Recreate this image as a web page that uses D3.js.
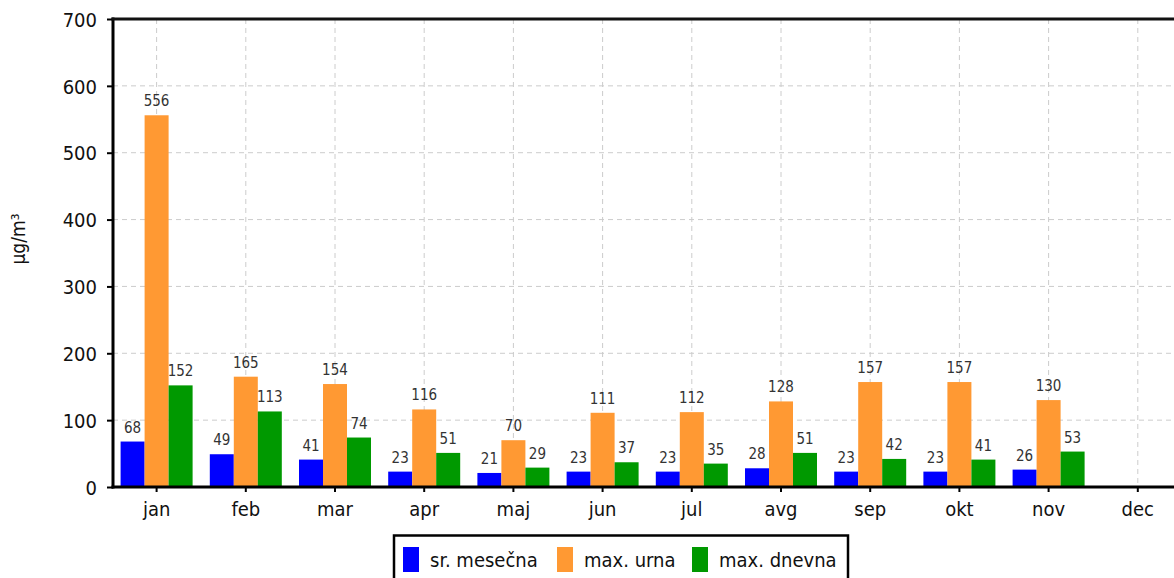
<!DOCTYPE html>
<html>
<head>
<meta charset="utf-8">
<script src="https://cdn.jsdelivr.net/npm/d3@7"></script>
<style>
  html, body { margin: 0; padding: 0; background: #fff; overflow: hidden; }
  svg { display: block; }
  text { font-family: "DejaVu Sans Condensed", "DejaVu Sans", Verdana, sans-serif; font-stretch: condensed; }
</style>
</head>
<body>
<svg id="chart" width="1174" height="578"></svg>
<script>
// Monthly concentrations (µg/m³)
const months = ["jan","feb","mar","apr","maj","jun","jul","avg","sep","okt","nov","dec"];
const seriesNames = ["sr. mesečna","max. urna","max. dnevna"];
const seriesColors = ["#0000ff","#ff9933","#009900"];
const avgMonthly = [68, 49, 41, 23, 21, 23, 23, 28, 23, 23, 26, null];
const maxHourly  = [556, 165, 154, 116, 70, 111, 112, 128, 157, 157, 130, null];
const maxDaily   = [152, 113, 74, 51, 29, 37, 35, 51, 42, 41, 53, null];
const yTicks = [0, 100, 200, 300, 400, 500, 600, 700];

const series = [avgMonthly, maxHourly, maxDaily];

const svg = d3.select("#chart");
const plotLeft = 113, plotTop = 19, plotBottom = 487, step = 89.2;
const bandStart = 112;
const plotRight = bandStart + step * months.length;

const x = d3.scaleBand().domain(months).range([bandStart, plotRight]);
const inner = d3.scaleBand().domain(seriesNames).range([0, 72]);
const y = d3.scaleLinear().domain([0, 700]).range([plotBottom, plotTop]);

// grid
svg.append("g").selectAll("line").data(yTicks.slice(1)).join("line")
  .attr("x1", plotLeft).attr("x2", 1174)
  .attr("y1", d => y(d)).attr("y2", d => y(d))
  .attr("stroke", "#cccccc").attr("stroke-width", 1).attr("stroke-dasharray", "5,4");
svg.append("g").selectAll("line").data(months).join("line")
  .attr("x1", d => x(d) + x.bandwidth() / 2).attr("x2", d => x(d) + x.bandwidth() / 2)
  .attr("y1", plotTop).attr("y2", plotBottom)
  .attr("stroke", "#cccccc").attr("stroke-width", 1).attr("stroke-dasharray", "5,4");

// bars with value labels
const offset = (x.bandwidth() - 72) / 2;
series.forEach((vals, si) => {
  const g = svg.append("g");
  const rows = months.map((m, i) => ({ m, v: vals[i] })).filter(d => d.v != null);
  g.selectAll("rect").data(rows).join("rect")
    .attr("x", d => x(d.m) + offset + inner(seriesNames[si]))
    .attr("width", inner.bandwidth())
    .attr("y", d => y(d.v))
    .attr("height", d => plotBottom - y(d.v))
    .attr("fill", seriesColors[si]);
  g.selectAll("text").data(rows).join("text")
    .attr("x", d => x(d.m) + offset + inner(seriesNames[si]) + inner.bandwidth() / 2)
    .attr("y", d => y(d.v) - 9)
    .attr("text-anchor", "middle")
    .attr("font-size", 15)
    .attr("fill", "#333")
    .text(d => d.v);
});

// axes
const yAxis = d3.axisLeft(y).tickValues(yTicks).tickSize(6).tickPadding(10);
const yg = svg.append("g").attr("transform", `translate(${plotLeft},0)`).call(yAxis);
yg.select(".domain").remove();
yg.selectAll("line").attr("stroke", "#000").attr("stroke-width", 2);
yg.selectAll("text").attr("font-size", 20).attr("fill", "#111")
  .attr("font-family", null).attr("dy", "0.36em");

const xAxis = d3.axisBottom(x).tickSize(5).tickPadding(10);
const xg = svg.append("g").attr("transform", `translate(0,${plotBottom})`).call(xAxis);
xg.select(".domain").remove();
xg.selectAll("line").attr("stroke", "#000").attr("stroke-width", 2);
xg.selectAll("text").attr("font-size", 20).attr("fill", "#111")
  .attr("font-family", null);

// frame
svg.append("line").attr("x1", plotLeft).attr("x2", plotLeft).attr("y1", plotTop - 1.5).attr("y2", plotBottom + 1.5)
  .attr("stroke", "#000").attr("stroke-width", 3);
svg.append("line").attr("x1", plotLeft - 1.5).attr("x2", 1174).attr("y1", plotBottom).attr("y2", plotBottom)
  .attr("stroke", "#000").attr("stroke-width", 3);
svg.append("line").attr("x1", plotLeft - 1.5).attr("x2", 1174).attr("y1", plotTop).attr("y2", plotTop)
  .attr("stroke", "#111").attr("stroke-width", 3);

// y label
svg.append("text")
  .attr("transform", "translate(25,239) rotate(-90)")
  .attr("text-anchor", "middle")
  .attr("font-size", 19)
  .attr("fill", "#111")
  .text("µg/m³");

// legend
const lg = svg.append("g");
lg.append("rect").attr("x", 394).attr("y", 535.5).attr("width", 454).attr("height", 60)
  .attr("fill", "#fff").attr("stroke", "#000").attr("stroke-width", 2.5);
const legX = [403, 557, 692];
seriesNames.forEach((n, i) => {
  lg.append("rect").attr("x", legX[i]).attr("y", 547).attr("width", 16).attr("height", 25)
    .attr("fill", seriesColors[i]);
  lg.append("text").attr("x", legX[i] + 27).attr("y", 567)
    .attr("font-size", 20).attr("fill", "#111").text(n);
});
</script>
</body>
</html>
